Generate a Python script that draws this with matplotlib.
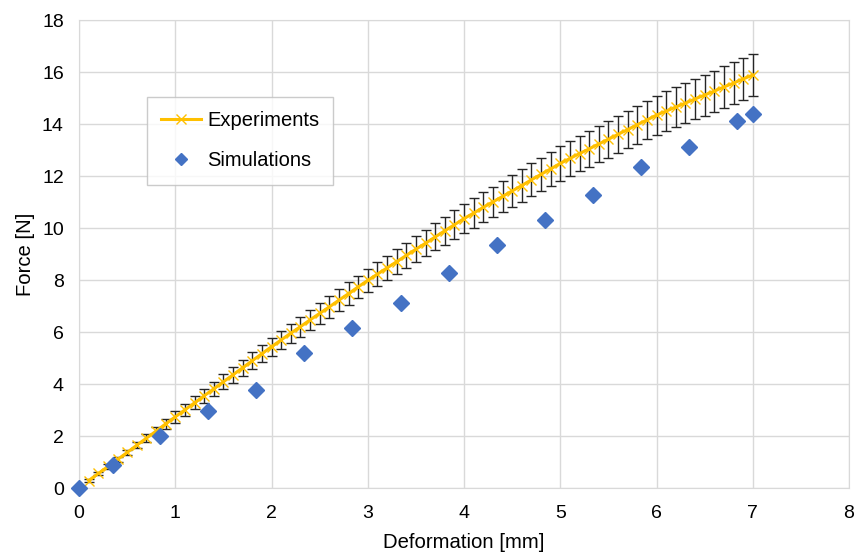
import numpy as np
import matplotlib.pyplot as plt

plt.rcParams['font.family'] = ['Liberation Sans', 'DejaVu Sans']

# experiments: mean force and error half-width every 0.1 mm
exp_x = [round(0.1 * i, 1) for i in range(1, 71)]
exp_y = [0.30, 0.57, 0.84, 1.11, 1.38, 1.66, 1.93, 2.20, 2.48, 2.75,
         3.02, 3.29, 3.56, 3.83, 4.10, 4.37, 4.64, 4.91, 5.18, 5.45,
         5.71, 5.97, 6.22, 6.48, 6.73, 6.98, 7.24, 7.49, 7.75, 8.00,
         8.24, 8.48, 8.72, 8.96, 9.20, 9.43, 9.67, 9.91, 10.14, 10.38,
         10.59, 10.81, 11.02, 11.23, 11.44, 11.65, 11.87, 12.08, 12.29, 12.50,
         12.69, 12.88, 13.06, 13.25, 13.43, 13.62, 13.80, 13.99, 14.17, 14.36,
         14.51, 14.67, 14.82, 14.98, 15.13, 15.28, 15.44, 15.59, 15.75, 15.90]
exp_err = [0.05, 0.06, 0.08, 0.09, 0.10, 0.12, 0.14, 0.16, 0.19, 0.22,
           0.24, 0.25, 0.26, 0.27, 0.28, 0.30, 0.31, 0.32, 0.33, 0.35,
           0.36, 0.37, 0.38, 0.39, 0.40, 0.41, 0.42, 0.43, 0.43, 0.44,
           0.45, 0.46, 0.47, 0.48, 0.50, 0.51, 0.52, 0.53, 0.55, 0.56,
           0.57, 0.58, 0.59, 0.60, 0.61, 0.62, 0.63, 0.64, 0.65, 0.67,
           0.68, 0.68, 0.69, 0.70, 0.71, 0.71, 0.72, 0.73, 0.74, 0.75,
           0.76, 0.76, 0.77, 0.78, 0.79, 0.79, 0.80, 0.81, 0.81, 0.82]

# simulations
sim_x = [0, 0.35, 0.84, 1.34, 1.84, 2.34, 2.84, 3.34, 3.84, 4.34, 4.84, 5.34, 5.84, 6.34, 6.84, 7.0]
sim_y = [0, 0.90, 2.01, 2.97, 3.77, 5.19, 6.15, 7.14, 8.29, 9.36, 10.32, 11.27, 12.37, 13.14, 14.14, 14.40]

FS = 14

fig = plt.figure(figsize=(8.55, 5.53), dpi=100)
ax = fig.add_axes([0.0925, 0.117, 0.9005, 0.846])

ax.errorbar(exp_x, exp_y, yerr=exp_err, fmt='none', ecolor='#262626',
            elinewidth=1.0, capsize=3.5, capthick=1.0, zorder=2)
ax.plot(exp_x, exp_y, color='#FFC000', lw=2.2, marker='x', ms=6.5, mew=1.0,
        label='Experiments', zorder=3)
ax.plot(sim_x, sim_y, ls='none', marker='D', ms=8.5, color='#4472C4',
        label='Simulations', zorder=4, clip_on=False)

ax.set_xlim(0, 8)
ax.set_ylim(0, 18)
ax.set_xticks(np.arange(0, 9, 1))
ax.set_yticks(np.arange(0, 20, 2))
ax.grid(True, color='#D9D9D9', lw=1.0)
ax.set_axisbelow(True)
for s in ax.spines.values():
    s.set_color('#D9D9D9')
ax.tick_params(axis='x', length=0, labelsize=FS, colors='#000000', pad=12)
ax.tick_params(axis='y', length=0, labelsize=FS, colors='#000000', pad=11)
ax.set_xlabel('Deformation [mm]', fontsize=14.6, labelpad=8)
ax.set_ylabel('Force [N]', fontsize=14.6, labelpad=5)

leg = ax.legend(loc='upper left', bbox_to_anchor=(0.088, 0.836), fontsize=14.5,
                frameon=True, fancybox=False, edgecolor='#BFBFBF',
                borderpad=0.7, labelspacing=1.05, handlelength=2.0,
                handletextpad=0.3, borderaxespad=0)
leg.get_frame().set_linewidth(1.0)
leg.legend_handles[1].set_markersize(6)

fig.savefig('out.png', dpi=100)
